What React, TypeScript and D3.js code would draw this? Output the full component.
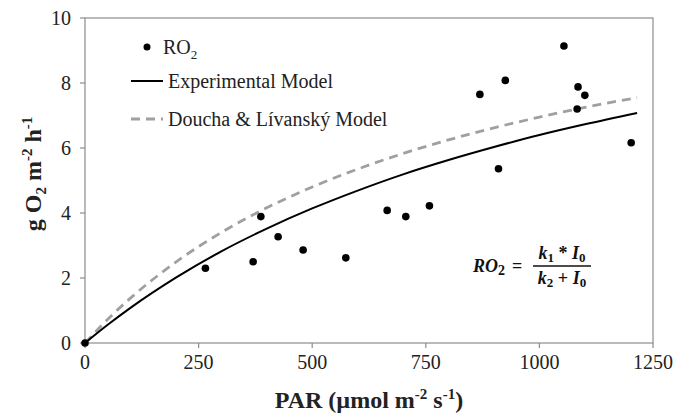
import React from "react";
import * as d3 from "d3";

// measured RO2 points
const parValues = [0, 265, 370, 387, 425, 480, 574, 665, 706, 758, 869, 910, 925, 1054, 1083, 1085, 1100, 1202];
const ro2Values = [0, 2.3, 2.5, 3.89, 3.27, 2.86, 2.62, 4.08, 3.89, 4.22, 7.65, 5.36, 8.08, 9.14, 7.2, 7.88, 7.62, 6.16];

// model curves
const curveX = [0, 50, 100, 200, 300, 400, 500, 600, 700, 800, 900, 1000, 1100, 1215];
const experimentalY = [0, 0.56, 1.08, 2.01, 2.82, 3.52, 4.14, 4.69, 5.19, 5.63, 6.03, 6.4, 6.73, 7.08];
const douchaY = [0, 0.73, 1.38, 2.49, 3.4, 4.16, 4.8, 5.35, 5.83, 6.25, 6.62, 6.95, 7.25, 7.55];

const xTicks = [0, 250, 500, 750, 1000, 1250];
const yTicks = [0, 2, 4, 6, 8, 10];

const W = 691, H = 420;
const margin = { left: 85, right: 38, top: 18, bottom: 77 };

export default function App() {
  const x = d3.scaleLinear().domain([0, 1250]).range([margin.left, W - margin.right]);
  const y = d3.scaleLinear().domain([0, 10]).range([H - margin.bottom, margin.top]);

  const line = d3.line<number>()
    .x((d, i) => x(curveX[i]))
    .y(d => y(d))
    .curve(d3.curveMonotoneX);

  const axisColor = "#8c8c8c";
  const font = "Liberation Serif, DejaVu Serif, serif";

  return (
    <svg width={W} height={H} style={{ position: "absolute", left: 0, top: 0, background: "#fff", fontFamily: font }}>
      {/* frame */}
      <rect x={x(0)} y={y(10)} width={x(1250) - x(0)} height={y(0) - y(10)} fill="none" stroke={axisColor} strokeWidth={1.2} />

      {xTicks.map(t => (
        <g key={"x" + t}>
          <line x1={x(t)} x2={x(t)} y1={y(0)} y2={y(0) + 5} stroke={axisColor} strokeWidth={1.2} />
          <text x={x(t)} y={y(0) + 26} textAnchor="middle" fontSize={20} fill="#222">{t}</text>
        </g>
      ))}
      {yTicks.map(t => (
        <g key={"y" + t}>
          <line x1={x(0) - 5} x2={x(0)} y1={y(t)} y2={y(t)} stroke={axisColor} strokeWidth={1.2} />
          <text x={x(0) - 14} y={y(t) + 7} textAnchor="end" fontSize={20} fill="#222">{t}</text>
        </g>
      ))}

      <path d={line(douchaY) || ""} fill="none" stroke="#a0a0a0" strokeWidth={2.8} strokeDasharray="9,6" />
      <path d={line(experimentalY) || ""} fill="none" stroke="#000" strokeWidth={2} />

      {parValues.map((p, i) => (
        <circle key={i} cx={x(p)} cy={y(ro2Values[i])} r={3.8} fill="#000" />
      ))}

      {/* legend */}
      <circle cx={147} cy={47} r={3.5} fill="#000" />
      <text x={163} y={54} fontSize={20} fill="#222">RO<tspan fontSize={13} dy={5}>2</tspan></text>
      <line x1={131} x2={163} y1={81} y2={81} stroke="#000" strokeWidth={2} />
      <text x={168} y={88} fontSize={20} fill="#222">Experimental Model</text>
      <line x1={131} x2={163} y1={119} y2={119} stroke="#a0a0a0" strokeWidth={2.8} strokeDasharray="9,6" />
      <text x={168} y={126} fontSize={20} fill="#222">Doucha &amp; Lívanský Model</text>

      {/* formula */}
      <g fontWeight="bold" fontStyle="italic" fontSize={18} fill="#111">
        <text x={473} y={272}>RO<tspan fontStyle="normal" fontSize={14} dy={3}>2</tspan></text>
        <text x={512} y={272} fontStyle="normal">=</text>
        <line x1={533} x2={591} y1={266} y2={266} stroke="#111" strokeWidth={1.3} />
        <text x={562} y={259} textAnchor="middle">k<tspan fontStyle="normal" fontSize={13} dy={3}>1</tspan><tspan dy={-3} fontStyle="normal"> * </tspan>I<tspan fontStyle="normal" fontSize={13} dy={3}>0</tspan></text>
        <text x={562} y={284} textAnchor="middle">k<tspan fontStyle="normal" fontSize={13} dy={3}>2</tspan><tspan dy={-3} fontStyle="normal"> + </tspan>I<tspan fontStyle="normal" fontSize={13} dy={3}>0</tspan></text>
      </g>

      {/* axis titles */}
      <text x={(x(0) + x(1250)) / 2} y={408} textAnchor="middle" fontSize={24} fontWeight="bold" fill="#222">
        PAR (µmol m<tspan fontSize={15} dy={-9}>-2</tspan><tspan dy={9}> s</tspan><tspan fontSize={15} dy={-9}>-1</tspan><tspan dy={9}>)</tspan>
      </text>
      <text transform={`translate(41,${y(5.2)}) rotate(-90)`} textAnchor="middle" fontSize={24} fontWeight="bold" fill="#222">
        g O<tspan fontSize={15} dy={5}>2</tspan><tspan dy={-5}> m</tspan><tspan fontSize={15} dy={-9}>-2</tspan><tspan dy={9}> h</tspan><tspan fontSize={15} dy={-9}>-1</tspan>
      </text>
    </svg>
  );
}
